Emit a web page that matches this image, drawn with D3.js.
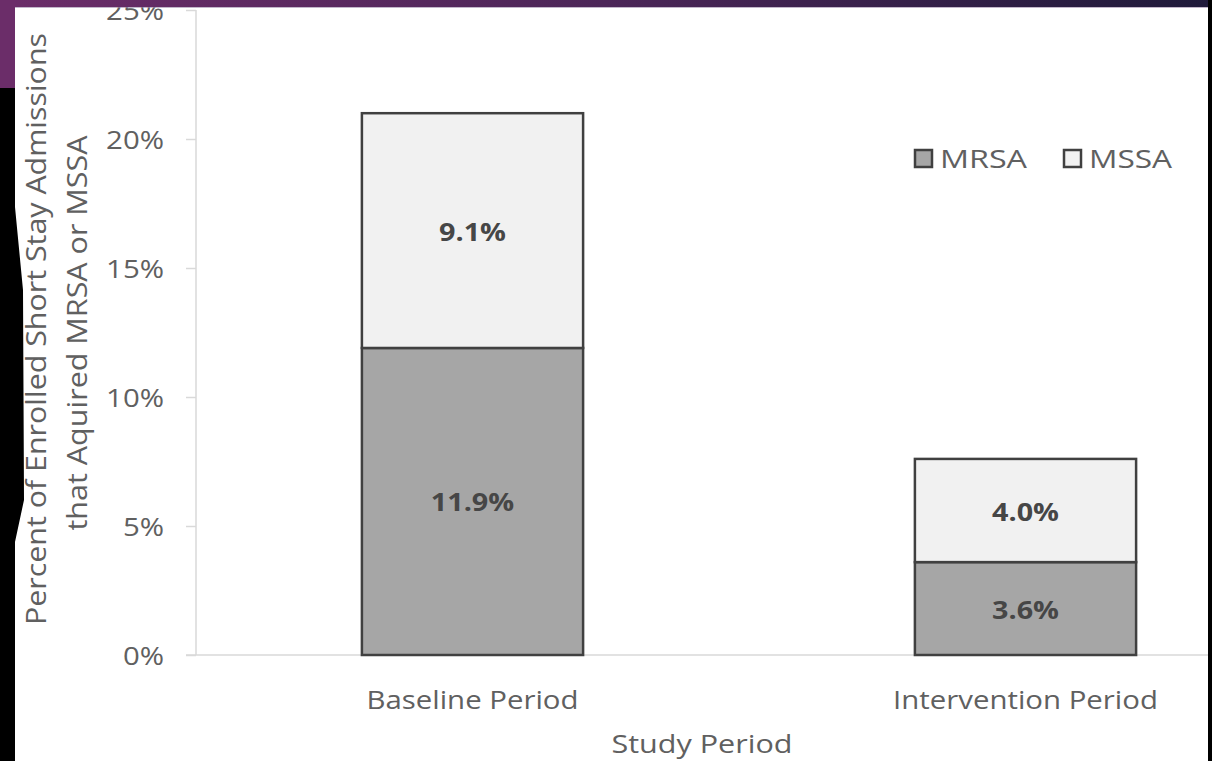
<!DOCTYPE html>
<html><head><meta charset="utf-8">
<script src="https://cdn.jsdelivr.net/npm/d3@7"></script>
<style>html,body{margin:0;padding:0;background:#000;overflow:hidden}</style>
</head><body>
<svg id="c" width="1212" height="761"></svg>
<script>
// ---- data ----
const categories = ["Baseline Period", "Intervention Period"];
const seriesNames = ["MRSA", "MSSA"];
const mrsaValues = [11.9, 3.6];
const mssaValues = [9.1, 4.0];
const yTicks = [0, 5, 10, 15, 20, 25];
const yTitleLines = ["Percent of Enrolled Short Stay Admissions", "that Aquired MRSA or MSSA"];
const xTitle = "Study Period";

// ---- layout ----
const W = 1212, H = 761;
const svg = d3.select("#c");
const FONT = "'Open Sans', 'Noto Sans', sans-serif";
const TXT = "#606060", LBL = "#464646";
const colors = {MRSA: "#a6a6a6", MSSA: "#f1f1f1"};

const y = d3.scaleLinear().domain([0, 25]).range([655, 10]);
const x = d3.scaleBand().domain(categories).range([196, 1302]).paddingInner(0.6).paddingOuter(0.3);

function stretch(sel, k) {
  sel.each(function(){ const n = this.getComputedTextLength(); this.setAttribute("textLength", n * k); this.setAttribute("lengthAdjust", "spacingAndGlyphs"); });
}
function fit(sel, w) { sel.attr("textLength", w).attr("lengthAdjust", "spacingAndGlyphs"); }

// white slide area
svg.append("rect").attr("x", 0).attr("y", 0).attr("width", W).attr("height", H).attr("fill", "#fff");

// y axis
const yAxis = d3.axisLeft(y).tickValues(yTicks).tickSize(10).tickPadding(22).tickFormat(d => d + "%");
const gy = svg.append("g").attr("transform", "translate(196,0)").call(yAxis);
gy.select(".domain").attr("stroke", "#d9d9d9").attr("stroke-width", 1.5).attr("d", `M0,${y(25)}V${y(0)}`);
gy.selectAll(".tick line").attr("stroke", "#d9d9d9").attr("stroke-width", 1.5);
gy.selectAll(".tick text").attr("fill", TXT).attr("font-family", FONT).attr("font-size", 26).attr("dy", "0.38em");
stretch(gy.selectAll(".tick text"), 1.13);

// x axis
const xAxis = d3.axisBottom(x).tickSize(0).tickPadding(36);
const gx = svg.append("g").attr("transform", `translate(0,${y(0)})`).call(xAxis);
gx.select(".domain").attr("stroke", "#d9d9d9").attr("stroke-width", 1.5).attr("d", `M186,0H1302`);
gx.selectAll(".tick text").attr("fill", TXT).attr("font-family", FONT).attr("font-size", 26).attr("dy", "0.71em");
stretch(gx.selectAll(".tick text"), 1.13);

// stacked bars
const rows = categories.map((c, i) => ({cat: c, MRSA: mrsaValues[i], MSSA: mssaValues[i]}));
const stack = d3.stack().keys(seriesNames)(rows);
const gBars = svg.append("g");
stack.forEach(layer => {
  gBars.selectAll(null).data(layer).enter().append("rect")
    .attr("x", d => x(d.data.cat))
    .attr("width", x.bandwidth())
    .attr("y", d => y(d[1]))
    .attr("height", d => y(d[0]) - y(d[1]))
    .attr("fill", colors[layer.key])
    .attr("stroke", "#404040").attr("stroke-width", 2.5);
});
stack.forEach(layer => {
  const t = gBars.selectAll(null).data(layer).enter().append("text")
    .attr("x", d => x(d.data.cat) + x.bandwidth() / 2)
    .attr("y", d => (y(d[0]) + y(d[1])) / 2)
    .attr("dy", "0.4em")
    .attr("text-anchor", "middle")
    .attr("font-family", FONT).attr("font-weight", "bold").attr("font-size", 25)
    .attr("fill", LBL)
    .text(d => (d[1] - d[0]).toFixed(1) + "%");
  stretch(t, 1.15);
});

// legend
const legX = [915, 1064];
const legW = [87, 83];
seriesNames.forEach((s, i) => {
  svg.append("rect").attr("x", legX[i]).attr("y", 150).attr("width", 17).attr("height", 17)
    .attr("fill", colors[s]).attr("stroke", "#404040").attr("stroke-width", 2.5);
  const t = svg.append("text").attr("x", legX[i] + 25).attr("y", 168)
    .attr("font-family", FONT).attr("font-size", 26).attr("fill", TXT).text(s);
  fit(t, legW[i]);
});

// axis titles
const yt1 = svg.append("text").attr("transform", "translate(46,329) rotate(-90)")
  .attr("text-anchor", "middle").attr("font-family", FONT).attr("font-size", 28).attr("fill", TXT).text(yTitleLines[0]);
fit(yt1, 592);
const yt2 = svg.append("text").attr("transform", "translate(87,333) rotate(-90)")
  .attr("text-anchor", "middle").attr("font-family", FONT).attr("font-size", 28).attr("fill", TXT).text(yTitleLines[1]);
fit(yt2, 395);
const xt = svg.append("text").attr("x", 702).attr("y", 753)
  .attr("text-anchor", "middle").attr("font-family", FONT).attr("font-size", 26).attr("fill", TXT).text(xTitle);
fit(xt, 181);

// slide frame: top gradient band, left purple/black edge, right black strip
const defs = svg.append("defs");
const grad = defs.append("linearGradient").attr("id", "band").attr("x1", 0).attr("x2", 1).attr("y1", 0).attr("y2", 0);
grad.append("stop").attr("offset", 0).attr("stop-color", "#6b2d69");
grad.append("stop").attr("offset", 0.5).attr("stop-color", "#4c2658");
grad.append("stop").attr("offset", 1).attr("stop-color", "#1f1a3a");
svg.append("rect").attr("x", 0).attr("y", 0).attr("width", W).attr("height", 7).attr("fill", "url(#band)");
svg.append("rect").attr("x", 0).attr("y", 7).attr("width", W).attr("height", 1).attr("fill", "#9a86a6").attr("opacity", 0.6);
svg.append("rect").attr("x", 0).attr("y", 0).attr("width", 15).attr("height", 88).attr("fill", "#6b2d69");
svg.append("path").attr("d", "M0,88H15V207L23,290L24,500L15,542V761H0Z").attr("fill", "#000");
svg.append("rect").attr("x", 1208).attr("y", 0).attr("width", 4).attr("height", H).attr("fill", "#000");
</script>
</body></html>
